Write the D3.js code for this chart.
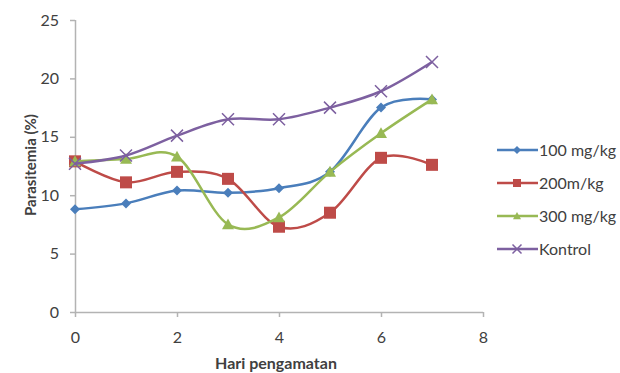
<!DOCTYPE html>
<html>
<head>
<meta charset="utf-8">
<script src="https://cdn.jsdelivr.net/npm/d3@7"></script>
<style>
  body { margin: 0; background: #fff; }
  text { font-family: Lato, "Open Sans", sans-serif; fill: #404040; }
</style>
</head>
<body>
<svg id="chart" width="620" height="373"></svg>
<script>
var days = [0, 1, 2, 3, 4, 5, 6, 7]
var seriesNames = ['100 mg/kg', '200m/kg', '300 mg/kg', 'Kontrol']
var dose100 = [8.8, 9.3, 10.4, 10.2, 10.6, 12.0, 17.5, 18.2]
var dose200 = [12.9, 11.1, 12.0, 11.4, 7.3, 8.5, 13.2, 12.6]
var dose300 = [12.9, 13.1, 13.3, 7.5, 8.1, 12.0, 15.3, 18.2]
var kontrol = [12.7, 13.4, 15.1, 16.5, 16.5, 17.5, 18.9, 21.4]
var xTicks = [0, 2, 4, 6, 8]
var yTicks = [0, 5, 10, 15, 20, 25]

var colors = ['#4a7ebb', '#be4b48', '#98b954', '#7d60a0']
var shapes = ['diamond', 'square', 'triangle', 'cross']
var allValues = [dose100, dose200, dose300, kontrol]

var svg = d3.select('#chart')

var x = d3.scaleLinear().domain([0, 8]).range([75, 483])
var y = d3.scaleLinear().domain([0, 25]).range([312, 20])

// axes
var xAxis = svg.append('g')
    .attr('transform', 'translate(0,312)')
    .call(d3.axisBottom(x).tickValues(xTicks).tickSize(5).tickPadding(15))
var yAxis = svg.append('g')
    .attr('transform', 'translate(75,0)')
    .call(d3.axisLeft(y).tickValues(yTicks).tickSize(5).tickPadding(11))

svg.selectAll('.domain').attr('stroke', '#b3b3b3').attr('stroke-width', 1.5)
svg.selectAll('.tick line').attr('stroke', '#b3b3b3').attr('stroke-width', 1.5)
svg.selectAll('.tick text').style('font-size', '16px').style('fill', '#404040')
    .style('font-family', 'Lato, sans-serif')
xAxis.selectAll('.domain').attr('d', 'M75,0.5H483')
yAxis.selectAll('.domain').attr('d', 'M0.5,20V312')

// axis titles
svg.append('text')
    .attr('x', 276).attr('y', 369)
    .attr('text-anchor', 'middle')
    .style('font-size', '16px').style('font-weight', 'bold')
    .text('Hari pengamatan')

svg.append('text')
    .attr('transform', 'translate(36,165) rotate(-90)')
    .attr('text-anchor', 'middle')
    .style('font-size', '15px').style('font-weight', 'bold')
    .text('Parasitemia (%)')

var line = d3.line()
    .x(d => x(d[0]))
    .y(d => y(d[1]))
    .curve(d3.curveCardinal.tension(0))

var drawMarker = (g, shape, color, size) => {
    if (shape == 'diamond') {
        g.append('path').attr('d', 'M0,' + (-size) + 'L' + size + ',0L0,' + size + 'L' + (-size) + ',0Z')
            .attr('fill', color)
    } else if (shape == 'square') {
        g.append('rect').attr('x', -size).attr('y', -size)
            .attr('width', size * 2).attr('height', size * 2).attr('fill', color)
    } else if (shape == 'triangle') {
        g.append('path').attr('d', 'M0,' + (-size) + 'L' + size + ',' + (size * 0.8) + 'L' + (-size) + ',' + (size * 0.8) + 'Z')
            .attr('fill', color)
    } else {
        g.append('path').attr('d', 'M' + (-size) + ',' + (-size) + 'L' + size + ',' + size + 'M' + size + ',' + (-size) + 'L' + (-size) + ',' + size)
            .attr('stroke', color).attr('stroke-width', 1.5).attr('fill', 'none')
    }
}

var markerSize = [5, 6, 6, 6]

allValues.forEach((values, s) => {
    var points = days.map((d, i) => [d, values[i]])
    svg.append('path')
        .datum(points)
        .attr('d', line)
        .attr('fill', 'none')
        .attr('stroke', colors[s])
        .attr('stroke-width', 2.5)

    points.forEach(p => {
        var g = svg.append('g').attr('transform', 'translate(' + x(p[0]) + ',' + y(p[1]) + ')')
        drawMarker(g, shapes[s], colors[s], markerSize[s])
    })
})

// legend
var legendY = [150, 183, 216, 249]
seriesNames.forEach((name, s) => {
    var g = svg.append('g').attr('transform', 'translate(497,' + legendY[s] + ')')
    g.append('line').attr('x1', 0).attr('x2', 41).attr('y1', 0).attr('y2', 0)
        .attr('stroke', colors[s]).attr('stroke-width', 2.5)
    var m = g.append('g').attr('transform', 'translate(20,0)')
    drawMarker(m, shapes[s], colors[s], s == 3 ? 4.5 : 4)
    g.append('text').attr('x', 42).attr('y', 0).attr('dy', '0.35em')
        .style('font-size', '16px')
        .text(name)
})
</script>
</body>
</html>
